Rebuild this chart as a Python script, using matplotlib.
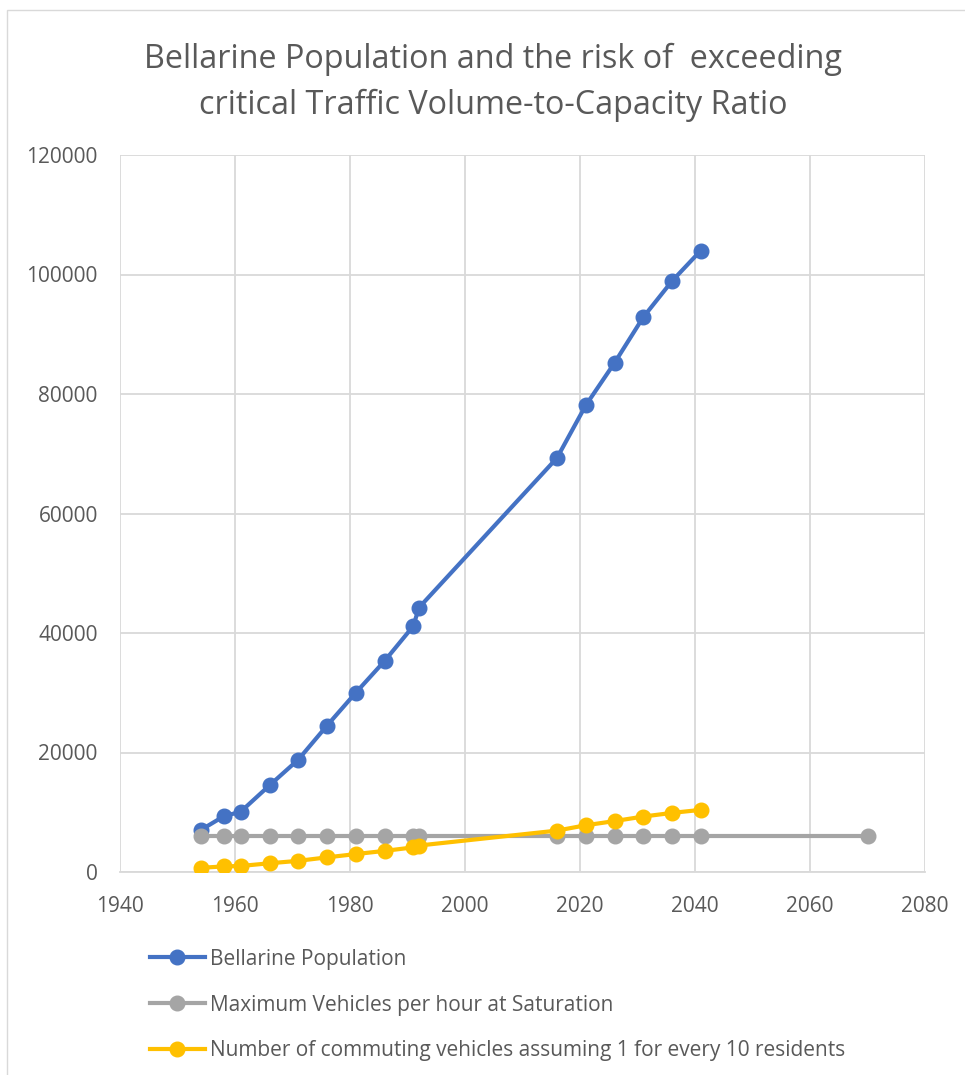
import matplotlib.pyplot as plt
from matplotlib.patches import Rectangle

plt.rcParams['font.family'] = ['Open Sans', 'DejaVu Sans']

years = [1954, 1958, 1961, 1966, 1971, 1976, 1981, 1986, 1991, 1992,
         2016, 2021, 2026, 2031, 2036, 2041]
population = [7000, 9300, 10100, 14500, 18800, 24500, 30000, 35300, 41150, 44250,
              69300, 78100, 85200, 92850, 98900, 104000]
saturation_years = years + [2070]
saturation = [6000] * len(saturation_years)
commuters = [700, 930, 1010, 1460, 1870, 2450, 3000, 3530, 4120, 4430,
             6930, 7820, 8520, 9280, 9890, 10400]

text_color = '#595959'

fig = plt.figure(figsize=(9.65, 10.75), dpi=100)
# outer chart frame (runs off the right and bottom edges)
fig.patches.append(Rectangle((7 / 965, -10 / 1075), 980 / 965, 1075 / 1075,
                             transform=fig.transFigure, fill=False,
                             edgecolor='#D9D9D9', linewidth=1))
ax = fig.add_axes([120 / 965, 1 - 872 / 1075, 805 / 965, 717 / 1075])

ax.plot(years, population, color='#4472C4', lw=3, marker='o', ms=10.5,
        label='Bellarine Population', zorder=3)
ax.plot(saturation_years, saturation, color='#A5A5A5', lw=3, marker='o', ms=10.5,
        label='Maximum Vehicles per hour at Saturation', zorder=3)
ax.plot(years, commuters, color='#FFC000', lw=3, marker='o', ms=10.5,
        label='Number of commuting vehicles assuming 1 for every 10 residents', zorder=4)

ax.set_xlim(1940, 2080)
ax.set_ylim(0, 120000)
ax.set_xticks(range(1940, 2081, 20))
ax.set_yticks(range(0, 120001, 20000))
ax.grid(True, color='#D9D9D9', lw=1.3)
ax.set_axisbelow(True)
for s in ['top', 'right', 'left']:
    ax.spines[s].set_visible(False)
ax.spines['bottom'].set_color('#D9D9D9')
ax.spines['bottom'].set_linewidth(1.3)
ax.tick_params(length=0, labelsize=15, colors=text_color)
ax.tick_params(axis='y', pad=16)
ax.tick_params(axis='x', pad=17)

fig.text(493 / 965, 1 - 82 / 1075,
         'Bellarine Population and the risk of  exceeding\ncritical Traffic Volume-to-Capacity Ratio',
         ha='center', va='center', fontsize=23.3, color=text_color, linespacing=1.5)

fig.legend(loc='upper left', bbox_to_anchor=(131 / 965, 1 - 930 / 1075),
           frameon=False, fontsize=15, labelcolor=text_color,
           handlelength=2.65, handletextpad=0.25, labelspacing=1.19)

fig.savefig('out.png', dpi=100)
